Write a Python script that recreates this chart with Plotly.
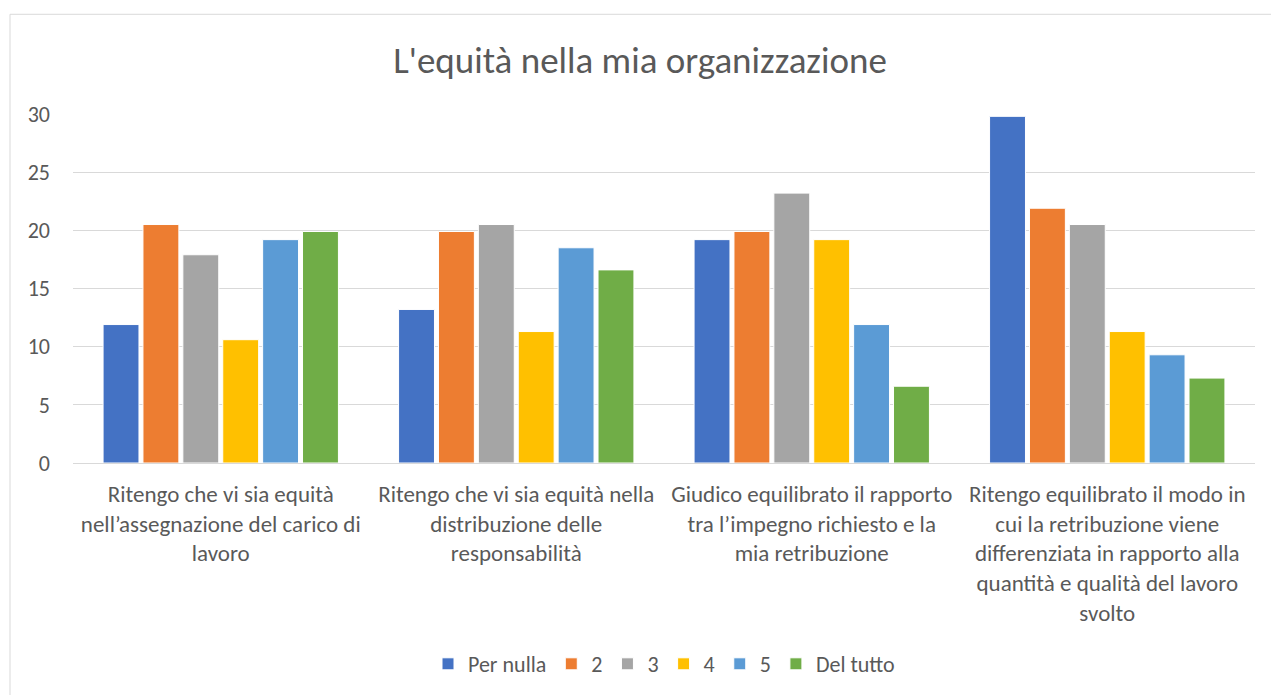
import plotly.graph_objects as go

categories = [
    "Ritengo che vi sia equità<br>nell’assegnazione del carico di<br>lavoro",
    "Ritengo che vi sia equità nella<br>distribuzione delle<br>responsabilità",
    "Giudico equilibrato il rapporto<br>tra l’impegno richiesto e la<br>mia retribuzione",
    "Ritengo equilibrato il modo in<br>cui la retribuzione viene<br>differenziata in rapporto alla<br>quantità e qualità del lavoro<br>svolto",
]
series_names = ["Per nulla", "2", "3", "4", "5", "Del tutto"]
per_nulla = [11.9, 13.2, 19.2, 29.8]
s2 = [20.5, 19.9, 19.9, 21.9]
s3 = [17.9, 20.5, 23.2, 20.5]
s4 = [10.6, 11.3, 19.2, 11.3]
s5 = [19.2, 18.5, 11.9, 9.3]
del_tutto = [19.9, 16.6, 6.6, 7.3]
values = [per_nulla, s2, s3, s4, s5, del_tutto]
colors = ["#4472C4", "#ED7D31", "#A5A5A5", "#FFC000", "#5B9BD5", "#70AD47"]
y_ticks = [0, 5, 10, 15, 20, 25, 30]

FONT = "Calibri, Carlito, Lato, sans-serif"
TXT = "#595959"

fig = go.Figure()
for name, vals, col in zip(series_names, values, colors):
    fig.add_trace(go.Bar(
        name=name, x=categories, y=vals,
        marker=dict(color=col, line=dict(color="white", width=1)),
    ))

W, H = 1271, 695
ml, mr, mt, mb = 73, 16, 114, 231
pw, ph = W - ml - mr, H - mt - mb

fig.update_layout(
    width=W, height=H,
    margin=dict(l=ml, r=mr, t=mt, b=mb),
    paper_bgcolor="white", plot_bgcolor="white",
    barmode="group", bargap=0.19, bargroupgap=0.1,
    font=dict(family=FONT, color=TXT, size=22),
    title=dict(text="L'equità nella mia organizzazione", x=640 / W, xref="container",
               xanchor="center", y=1 - 60 / H, yanchor="middle",
               font=dict(family="Calibri Light, Carlito, Lato, sans-serif", size=37,
                         color=TXT, weight=300)),
    showlegend=True,
    legend=dict(orientation="h", x=0.5, xanchor="center", y=-(664 - 464) / ph, yanchor="middle",
                font=dict(size=22, color=TXT), traceorder="normal", itemwidth=30),
    xaxis=dict(showgrid=False, showline=True, linecolor="#d9d9d9", linewidth=1,
               ticks="", tickfont=dict(size=23, color=TXT), tickangle=0,
               ticklabelstandoff=10),
    yaxis=dict(range=[0, 30], tickvals=y_ticks, showgrid=True, gridcolor="#d9d9d9",
               gridwidth=1, zeroline=False, showline=False, ticks="",
               tickfont=dict(size=22, color=TXT), ticklabelstandoff=22),
)

# chart area border
x0 = (10 - ml) / pw
y0 = 1 + (mt - 14) / ph
fig.add_shape(type="line", xref="paper", yref="paper", x0=x0, x1=x0, y0=y0, y1=-(H - mt) / ph,
              line=dict(color="#d9d9d9", width=1))
fig.add_shape(type="line", xref="paper", yref="paper", x0=x0, x1=1 + (mr + 5) / pw, y0=y0, y1=y0,
              line=dict(color="#d9d9d9", width=1))

fig.write_html("out.html", config={"displayModeBar": False},
               post_script="document.body.style.margin='0';document.body.style.padding='0';")
